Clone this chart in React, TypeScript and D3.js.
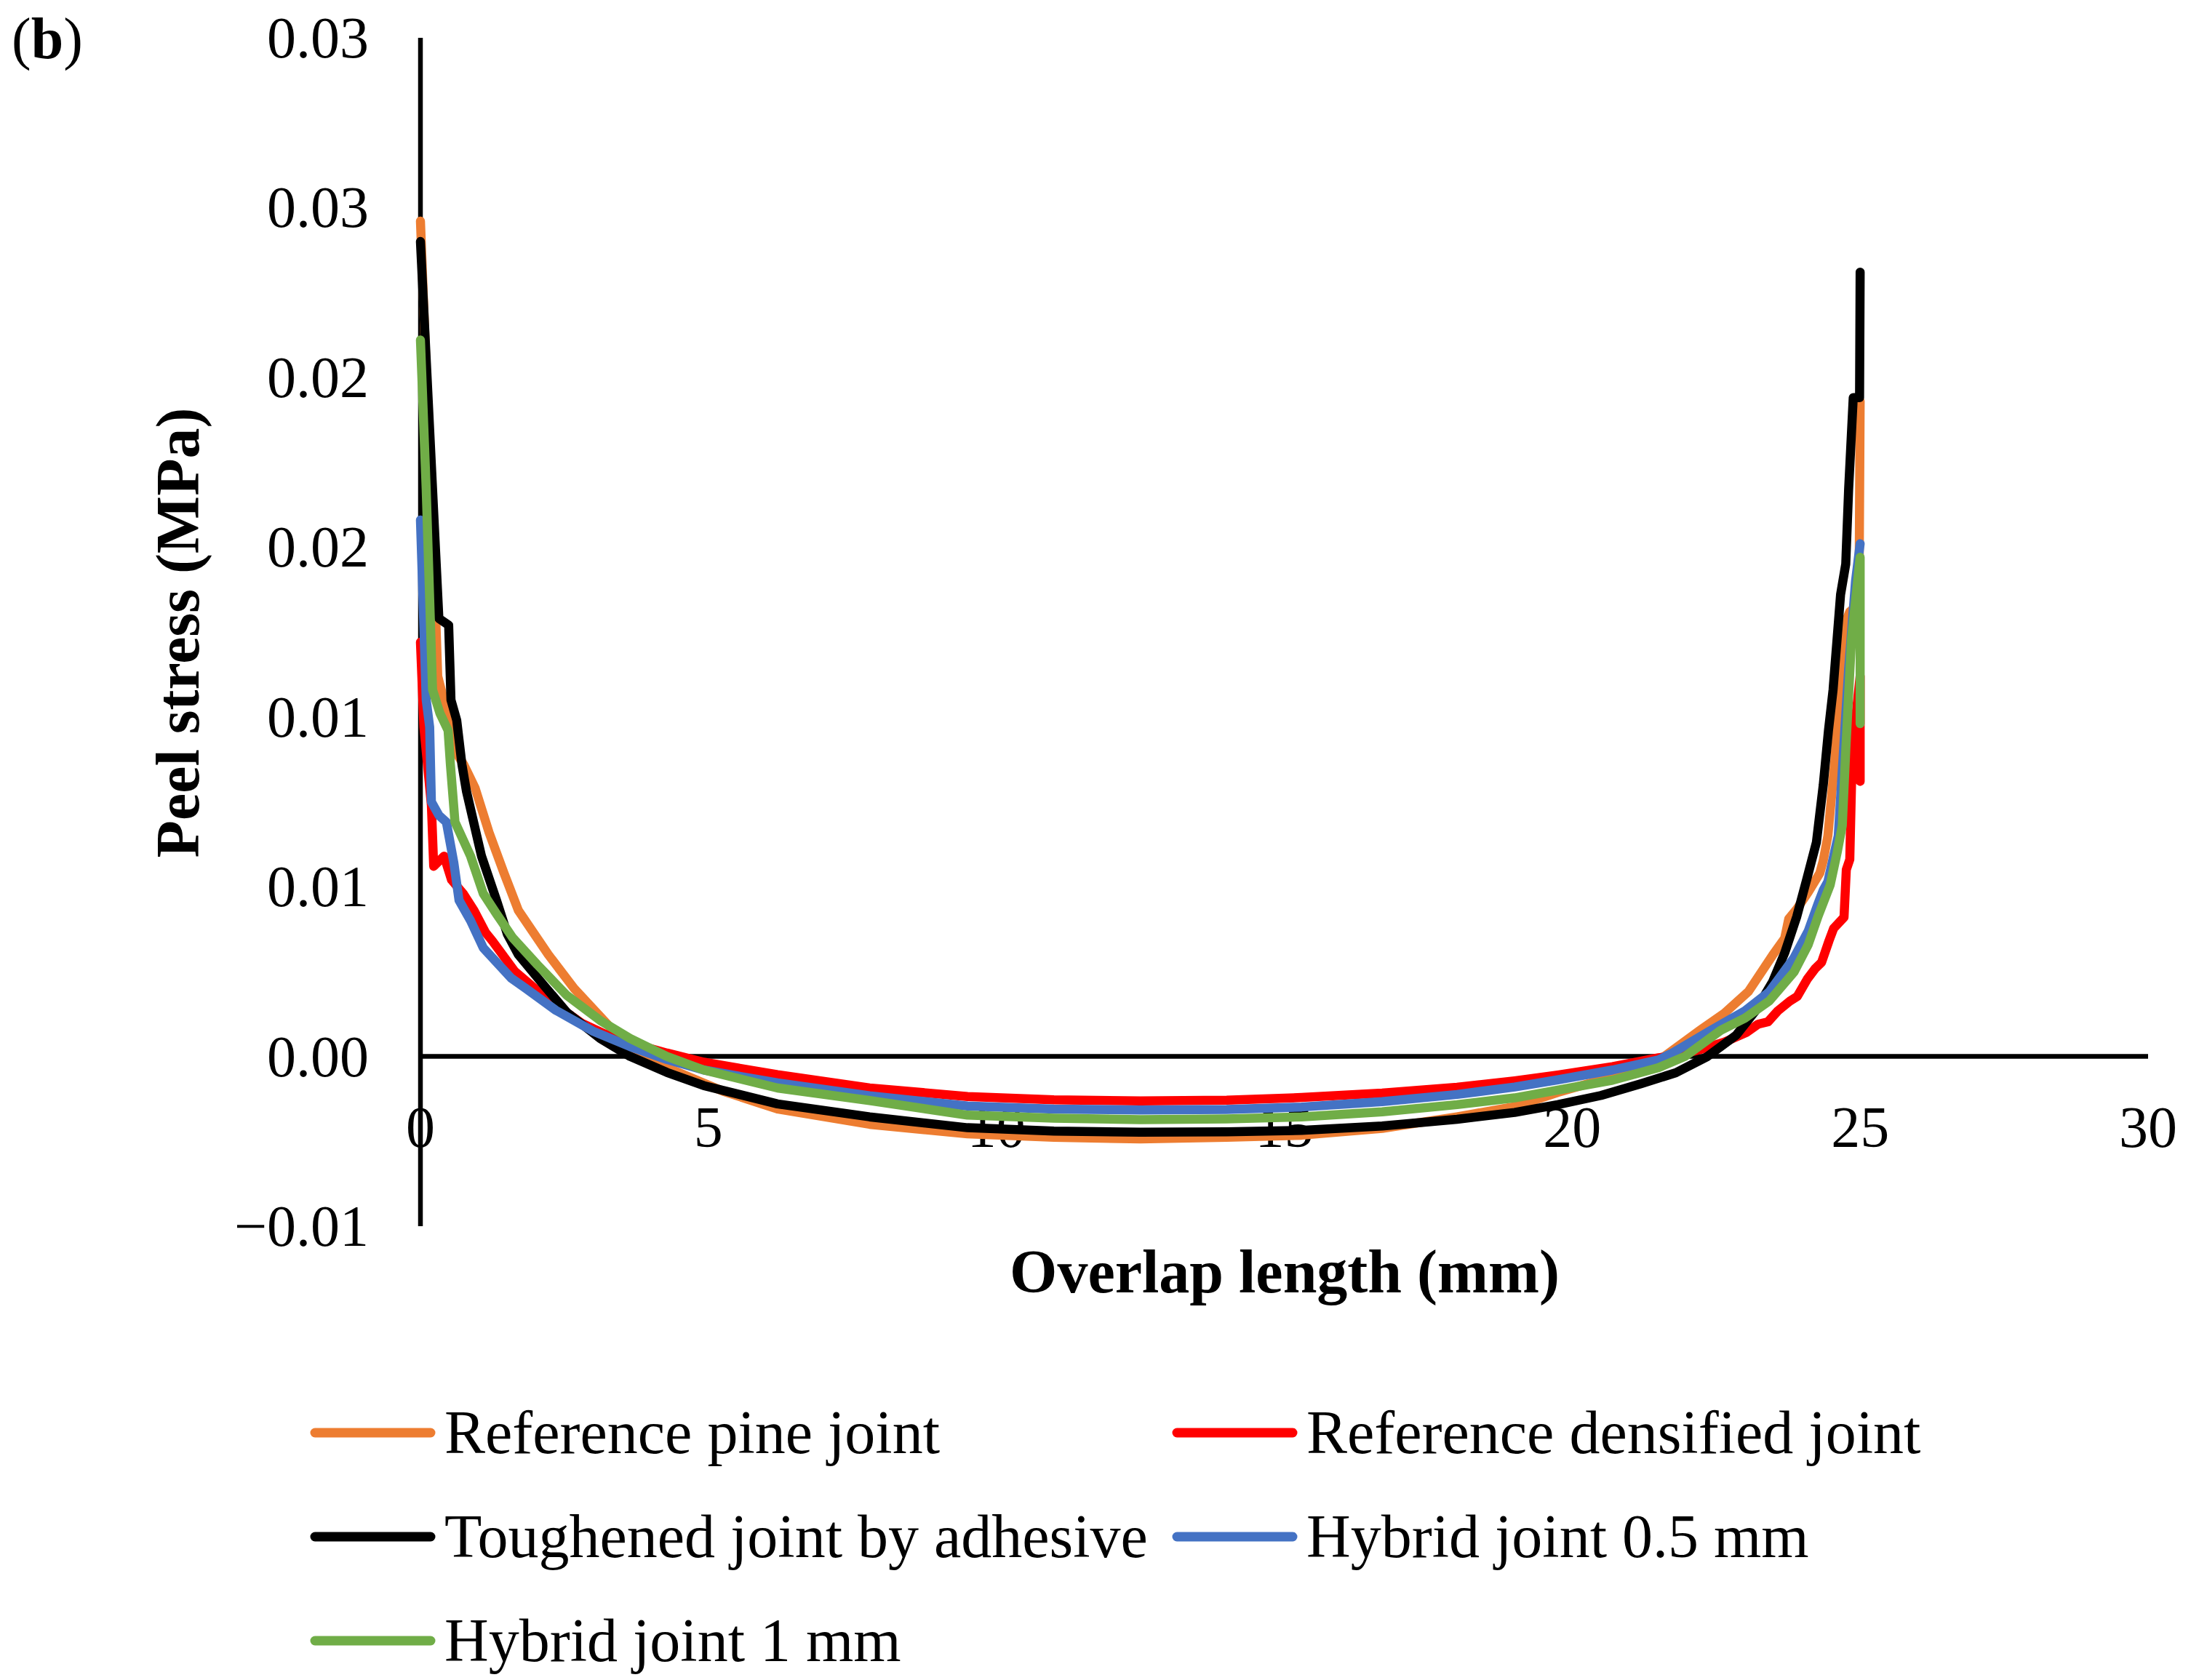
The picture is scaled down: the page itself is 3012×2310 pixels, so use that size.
import React from "react";
import * as d3 from "d3";

// ---------- data ----------
const seriesNames = [
  "Reference pine joint",
  "Reference densified joint",
  "Toughened joint by adhesive",
  "Hybrid joint 0.5 mm",
  "Hybrid joint 1 mm",
];
const seriesColors = ["#ED7D31", "#FF0000", "#000000", "#4472C4", "#70AD47"];

const pineX = [0, 0.27, 0.3, 0.45, 0.6, 0.75, 0.95, 1.19, 1.45, 1.7, 2.22, 2.67, 3.31, 3.76, 4.28, 5.25, 6.2, 7.8, 9.5, 11.0, 12.5, 14.0, 15.3, 16.7, 18.0, 19.0, 19.75, 20.7, 21.6, 22.22, 22.64, 23.06, 23.48, 23.69, 23.76, 23.9, 24.1, 24.3, 24.36, 24.44, 24.56, 24.65, 24.75, 24.82, 24.98, 25.0];
const pineY = [0.0246, 0.0127, 0.0112, 0.0102, 0.009, 0.0086, 0.0079, 0.0066, 0.0054, 0.0043, 0.003, 0.002, 0.00083, 0.00014, -0.00033, -0.00102, -0.00155, -0.002, -0.00228, -0.00238, -0.00243, -0.00238, -0.00232, -0.00212, -0.00178, -0.00148, -0.00106, -0.0006, 0.0, 0.00077, 0.00127, 0.00191, 0.00298, 0.00348, 0.00405, 0.00434, 0.00484, 0.0054, 0.00577, 0.0065, 0.0087, 0.0107, 0.0128, 0.0131, 0.0133, 0.0193];

const densX = [0, 0.06, 0.19, 0.23, 0.41, 0.54, 0.74, 0.93, 1.13, 1.25, 1.64, 2.16, 2.8, 3.38, 4.28, 4.92, 6.2, 7.8, 9.5, 11.0, 12.5, 14.0, 15.3, 16.7, 18.0, 19.0, 19.75, 20.7, 21.5, 21.8, 22.22, 22.64, 23.02, 23.23, 23.4, 23.57, 23.78, 23.91, 24.08, 24.22, 24.33, 24.46, 24.54, 24.72, 24.76, 24.82, 24.85, 24.92, 25.0, 25.0];
const densY = [0.0122, 0.0097, 0.0074, 0.0056, 0.0059, 0.0052, 0.0048, 0.0043, 0.00365, 0.0034, 0.0025, 0.00175, 0.00098, 0.00052, 0.0001, -0.00017, -0.00054, -0.00093, -0.00118, -0.00128, -0.00131, -0.00129, -0.00121, -0.00108, -0.00091, -0.00072, -0.00055, -0.0003, -0.00004, 0.00002, 0.0002, 0.00042, 0.0007, 0.00095, 0.00102, 0.00134, 0.00163, 0.00177, 0.00227, 0.00259, 0.00277, 0.00341, 0.00377, 0.0041, 0.0055, 0.0058, 0.008, 0.0099, 0.0112, 0.0081];

const toughX = [0, 0.32, 0.49, 0.53, 0.63, 0.72, 0.8, 1.06, 1.32, 1.51, 1.7, 2.09, 2.54, 3.12, 3.64, 4.28, 4.92, 6.2, 7.8, 9.5, 11.0, 12.5, 14.0, 15.3, 16.7, 18.0, 19.0, 19.75, 20.5, 21.2, 21.8, 22.35, 22.85, 23.18, 23.48, 23.69, 23.9, 24.07, 24.24, 24.36, 24.45, 24.53, 24.6, 24.66, 24.75, 24.8, 24.88, 24.99, 25.0];
const toughY = [0.024, 0.0129, 0.0127, 0.0105, 0.0099, 0.0086, 0.0078, 0.0059, 0.0046, 0.0036, 0.003, 0.0022, 0.0013, 0.00053, 0.0, -0.00047, -0.00086, -0.0014, -0.00178, -0.0021, -0.0022, -0.00223, -0.00222, -0.00218, -0.00205, -0.00185, -0.00165, -0.00142, -0.00115, -0.0008, -0.00048, 0.0, 0.00063, 0.00134, 0.0022, 0.00305, 0.00412, 0.0052, 0.0063, 0.008, 0.0096, 0.0108, 0.0123, 0.0136, 0.0145, 0.0167, 0.0194, 0.0194, 0.0231];

const hyb05X = [0, 0.1, 0.16, 0.19, 0.32, 0.45, 0.58, 0.67, 0.87, 1.09, 1.58, 1.83, 2.35, 3.0, 3.64, 4.28, 4.92, 6.2, 7.8, 9.5, 11.0, 12.5, 14.0, 15.3, 16.7, 18.0, 19.0, 19.75, 20.7, 21.5, 21.74, 22.41, 23.0, 23.42, 23.85, 24.1, 24.27, 24.36, 24.44, 24.62, 24.7, 24.8, 24.92, 25.0];
const hyb05Y = [0.0158, 0.0105, 0.0097, 0.0075, 0.0071, 0.0069, 0.0057, 0.0046, 0.004, 0.0032, 0.0023, 0.002, 0.00136, 0.00074, 0.00029, -0.00009, -0.0004, -0.00078, -0.00116, -0.00146, -0.00155, -0.00158, -0.00156, -0.00149, -0.00133, -0.00112, -0.0009, -0.00069, -0.0004, -0.0001, 0.0001, 0.00077, 0.00134, 0.0019, 0.0029, 0.0037, 0.0045, 0.0049, 0.00515, 0.0065, 0.0087, 0.0114, 0.014, 0.0151];

const hyb1X = [0, 0.1, 0.21, 0.34, 0.48, 0.52, 0.6, 0.87, 1.09, 1.32, 1.6, 2.03, 2.54, 3.12, 3.64, 4.28, 4.92, 6.2, 7.8, 9.5, 11.0, 12.5, 14.0, 15.3, 16.7, 18.0, 19.0, 19.75, 20.7, 21.5, 21.96, 22.58, 23.0, 23.42, 23.85, 24.1, 24.27, 24.48, 24.6, 24.69, 24.75, 24.85, 25.0, 25.0];
const hyb1Y = [0.0211, 0.0167, 0.0108, 0.0101, 0.0096, 0.0086, 0.0069, 0.0059, 0.0048, 0.0042, 0.0035, 0.0027, 0.0018, 0.00106, 0.00053, 0.0, -0.0004, -0.00093, -0.0013, -0.00173, -0.00182, -0.00186, -0.00184, -0.00178, -0.00163, -0.00142, -0.00122, -0.00099, -0.0007, -0.00033, 0.0, 0.00077, 0.00113, 0.00163, 0.00248, 0.0033, 0.00413, 0.00505, 0.006, 0.0068, 0.009, 0.0123, 0.0147, 0.0098];

const seriesX = [pineX, densX, toughX, hyb05X, hyb1X];
const seriesY = [pineY, densY, toughY, hyb05Y, hyb1Y];

const xTicks = [0, 5, 10, 15, 20, 25, 30];
const yTicks = [-0.005, 0, 0.005, 0.01, 0.015, 0.02, 0.025, 0.03];
const yTickLabels = ["\u22120.01", "0.00", "0.01", "0.01", "0.02", "0.02", "0.03", "0.03"];

const xTitle = "Overlap length (mm)";
const yTitle = "Peel stress (MPa)";

// ---------- layout ----------
const W = 3012;
const H = 2310;
const FONT = "'Liberation Serif', 'Times New Roman', serif";

export default function App() {
  const x = d3.scaleLinear().domain([0, 30]).range([578, 2953]);
  const y = d3.scaleLinear().domain([-0.005, 0.03]).range([1686, 52]);

  const line = d3
    .line<[number, number]>()
    .x((d) => x(d[0]))
    .y((d) => y(d[1]));

  const legendPos = [
    { lx: 427, ly: 1970 },
    { lx: 1612, ly: 1970 },
    { lx: 427, ly: 2113 },
    { lx: 1612, ly: 2113 },
    { lx: 427, ly: 2256 },
  ];

  return (
    <svg
      width={W}
      height={H}
      viewBox={`0 0 ${W} ${H}`}
      style={{ position: "absolute", left: 0, top: 0, display: "block", background: "#fff" }}
      fontFamily={FONT}
    >
      <rect x={0} y={0} width={W} height={H} fill="#fff" />

      {/* panel label */}
      <text x={16} y={80} fontSize={80} fill="#000">
        (<tspan fontWeight="bold">b</tspan>)
      </text>

      {/* axes */}
      <line x1={x(0)} x2={x(0)} y1={y(0.03)} y2={y(-0.005)} stroke="#000" strokeWidth={6.5} />
      <line x1={x(0)} x2={x(30)} y1={y(0)} y2={y(0)} stroke="#000" strokeWidth={6.5} />

      {/* y tick labels */}
      {yTicks.map((t, i) => (
        <text key={"yt" + i} x={507} y={y(t) + 27} fontSize={80} textAnchor="end" fill="#000">
          {yTickLabels[i]}
        </text>
      ))}

      {/* x tick labels */}
      {xTicks.map((t) => (
        <text key={"xt" + t} x={x(t)} y={1577} fontSize={80} textAnchor="middle" fill="#000">
          {d3.format("d")(t)}
        </text>
      ))}

      {/* series */}
      {seriesX.map((xs, si) => {
        const pts = xs.map((v, i) => [v, seriesY[si][i]] as [number, number]);
        return (
          <path
            key={"s" + si}
            d={line(pts) || ""}
            fill="none"
            stroke={seriesColors[si]}
            strokeWidth={12.5}
            strokeLinejoin="round"
            strokeLinecap="round"
          />
        );
      })}

      {/* axis titles */}
      <text x={1766} y={1777} fontSize={84} fontWeight="bold" textAnchor="middle" fill="#000">
        {xTitle}
      </text>
      <text
        transform={`translate(273, 870) rotate(-90)`}
        fontSize={84}
        fontWeight="bold"
        textAnchor="middle"
        fill="#000"
      >
        {yTitle}
      </text>

      {/* legend */}
      {seriesNames.map((name, i) => {
        const p = legendPos[i];
        return (
          <g key={"lg" + i}>
            <line
              x1={p.lx + 6}
              x2={p.lx + 165}
              y1={p.ly}
              y2={p.ly}
              stroke={seriesColors[i]}
              strokeWidth={13}
              strokeLinecap="round"
            />
            <text x={p.lx + 184} y={p.ly + 28} fontSize={84} fill="#000">
              {name}
            </text>
          </g>
        );
      })}
    </svg>
  );
}
